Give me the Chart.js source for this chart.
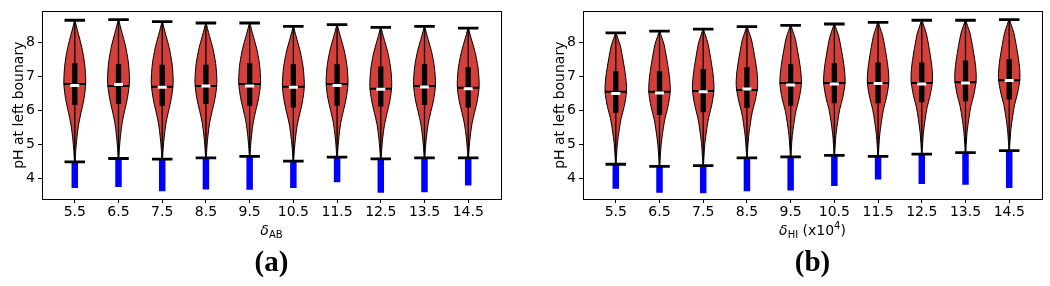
<!DOCTYPE html>
<html>
<head>
<meta charset="utf-8">
<script src="https://cdn.jsdelivr.net/npm/chart.js@4.4.1/dist/chart.umd.min.js"></script>
<style>
  body { margin: 0; background: #fff; }
  #wrap { position: relative; width: 1050px; height: 286px; }
  canvas { position: absolute; top: 0; }
  #chartA { left: 0; }
  #chartB { left: 525px; }
</style>
</head>
<body>
<div id="wrap">
  <canvas id="chartA" width="525" height="286"></canvas>
  <canvas id="chartB" width="525" height="286"></canvas>
</div>
<script>
const xLabels = ['5.5', '6.5', '7.5', '8.5', '9.5', '10.5', '11.5', '12.5', '13.5', '14.5'];
const yTicks = [4, 5, 6, 7, 8];

// panel (a): delta_AB
const aMax    = [8.65, 8.67, 8.61, 8.57, 8.57, 8.47, 8.52, 8.44, 8.47, 8.42];
const aMin    = [4.49, 4.59, 4.57, 4.61, 4.65, 4.51, 4.63, 4.58, 4.61, 4.61];
const aMean   = [6.78, 6.72, 6.70, 6.72, 6.78, 6.70, 6.78, 6.64, 6.72, 6.67];
const aMedian = [6.73, 6.76, 6.68, 6.72, 6.72, 6.68, 6.73, 6.62, 6.69, 6.64];
const aQ1     = [6.16, 6.19, 6.14, 6.19, 6.14, 6.09, 6.14, 6.12, 6.16, 6.09];
const aQ3     = [7.39, 7.36, 7.34, 7.34, 7.39, 7.36, 7.36, 7.29, 7.36, 7.27];
const aLow    = [3.72, 3.75, 3.63, 3.68, 3.67, 3.72, 3.89, 3.58, 3.60, 3.80];

// panel (b): delta_HI
const bMax    = [8.28, 8.33, 8.39, 8.46, 8.50, 8.54, 8.59, 8.65, 8.65, 8.67];
const bMin    = [4.42, 4.36, 4.38, 4.61, 4.64, 4.68, 4.65, 4.72, 4.76, 4.82];
const bMean   = [6.55, 6.55, 6.57, 6.60, 6.81, 6.81, 6.81, 6.81, 6.83, 6.89];
const bMedian = [6.50, 6.51, 6.55, 6.63, 6.75, 6.78, 6.79, 6.78, 6.81, 6.88];
const bQ1     = [5.93, 5.87, 5.95, 6.07, 6.14, 6.21, 6.21, 6.24, 6.27, 6.32];
const bQ3     = [7.15, 7.15, 7.22, 7.27, 7.36, 7.39, 7.41, 7.41, 7.47, 7.51];
const bLow    = [3.70, 3.58, 3.57, 3.63, 3.65, 3.78, 3.97, 3.84, 3.82, 3.72];

// violin outline: relative height (min cap -> max cap) and density (1 = widest)
const profT = [0, 0.04, 0.08, 0.16, 0.26, 0.35, 0.44, 0.55, 0.63, 0.70, 0.81, 0.90, 0.96, 1];
const profA = [0.03, 0.06, 0.09, 0.18, 0.34, 0.58, 0.83, 1.0, 0.97, 0.89, 0.64, 0.34, 0.14, 0.02];
const profB = [0.03, 0.05, 0.08, 0.15, 0.31, 0.49, 0.77, 0.98, 0.95, 0.85, 0.63, 0.42, 0.18, 0.02];

Chart.defaults.font.family = 'DejaVu Sans';
Chart.defaults.font.size = 14;
Chart.defaults.color = '#000';

function violins(maxs, mins, dens) {
    return maxs.map((top, i) => {
        const span = top - mins[i];
        const right = profT.map((t, k) => ({ x: i + 0.25 * dens[k], y: mins[i] + t * span }));
        const left = profT.map((t, k) => ({ x: i - 0.25 * dens[k], y: mins[i] + t * span })).reverse();
        return {
            data: right.concat(left),
            showLine: true,
            fill: 'shape',
            backgroundColor: '#D43F3A',
            borderColor: '#000',
            borderWidth: 1,
            pointRadius: 0,
            tension: 0.3,
            order: 6
        };
    });
}

// line segments separated by null gaps
function segs(pairs, color, width, order) {
    const data = [];
    pairs.forEach(p => { data.push(p[0], p[1], { x: p[0].x, y: null }); });
    return {
        data: data,
        showLine: true,
        borderColor: color,
        borderWidth: width,
        borderCapStyle: 'butt',
        pointRadius: 0,
        order: order
    };
}

function buildSets(d) {
    const sets = violins(d.max, d.min, d.prof);
    sets.push(segs(d.min.map((v, i) => [{ x: i, y: v }, { x: i, y: d.low[i] }]), '#0000ff', 6.5, 5));
    sets.push(segs(d.min.map((v, i) => [{ x: i, y: v }, { x: i, y: d.max[i] }]), '#000', 1.3, 4));
    sets.push(segs(d.q1.map((v, i) => [{ x: i, y: v }, { x: i, y: d.q3[i] }]), '#000', 5.3, 3));
    sets.push(segs(d.mean.map((v, i) => [{ x: i - 0.25, y: v }, { x: i + 0.25, y: v }]), '#000', 2, 2));
    const caps = [];
    d.max.forEach((v, i) => {
        caps.push([{ x: i - 0.235, y: v }, { x: i + 0.235, y: v }]);
        caps.push([{ x: i - 0.235, y: d.min[i] }, { x: i + 0.235, y: d.min[i] }]);
    });
    sets.push(segs(caps, '#000', 2.8, 1));
    sets.push({
        data: d.median.map((v, i) => ({ x: i, y: v })),
        pointStyle: 'line',
        pointRadius: 4.5,
        pointBorderWidth: 3,
        pointBorderColor: '#fff',
        borderColor: '#fff',
        order: 0
    });
    return sets;
}

function drawRich(ctx, parts, cx, y) {
    let w = 0;
    parts.forEach(p => { ctx.font = p.font; w += ctx.measureText(p.text).width; });
    let x = cx - w / 2;
    parts.forEach(p => {
        ctx.font = p.font;
        ctx.fillText(p.text, x, y + (p.dy || 0));
        x += ctx.measureText(p.text).width;
    });
}

const decor = {
    id: 'decor',
    afterDraw(chart, args, o) {
        const { ctx, chartArea: a } = chart;
        ctx.save();
        ctx.strokeStyle = '#000';
        ctx.lineWidth = 1;
        ctx.strokeRect(Math.round(a.left) + 0.5, Math.round(a.top) + 0.5,
            Math.round(a.right - a.left), Math.round(a.bottom - a.top));
        ctx.fillStyle = '#000';
        // y title
        ctx.save();
        ctx.translate(a.left - 23, (a.top + a.bottom) / 2);
        ctx.rotate(-Math.PI / 2);
        ctx.textAlign = 'center';
        ctx.textBaseline = 'middle';
        ctx.font = '14px "DejaVu Sans"';
        ctx.fillText('pH at left bounary', 0, 0);
        ctx.restore();
        // x title and panel letter
        const cx = (a.left + a.right) / 2;
        ctx.textAlign = 'left';
        ctx.textBaseline = 'alphabetic';
        drawRich(ctx, o.xTitle, cx, 235);
        ctx.textAlign = 'center';
        ctx.font = 'bold 29px "Liberation Serif"';
        ctx.fillText(o.letter, cx, 271);
        ctx.restore();
    }
};

function makeChart(id, d, pad, yWidth, xTitle, letter) {
    return new Chart(document.getElementById(id), {
        type: 'scatter',
        data: { datasets: buildSets(d) },
        options: {
            responsive: false,
            animation: false,
            events: [],
            layout: { padding: pad },
            plugins: {
                legend: { display: false },
                tooltip: { enabled: false },
                decor: { xTitle: xTitle, letter: letter }
            },
            scales: {
                x: {
                    type: 'linear',
                    min: -0.75,
                    max: 9.75,
                    afterBuildTicks: s => { s.ticks = xLabels.map((_, i) => ({ value: i })); },
                    afterFit: s => { s.height = 87; },
                    ticks: { callback: v => xLabels[v], padding: 1, maxRotation: 0, autoSkip: false },
                    grid: { drawOnChartArea: false, drawTicks: true, tickLength: 4, tickColor: '#000' },
                    border: { display: false }
                },
                y: {
                    min: 3.4,
                    max: 8.91,
                    afterBuildTicks: s => { s.ticks = yTicks.map(v => ({ value: v })); },
                    afterFit: s => { s.width = yWidth; },
                    ticks: { padding: 3 },
                    grid: { drawOnChartArea: false, drawTicks: true, tickLength: 4, tickColor: '#000' },
                    border: { display: false }
                }
            }
        },
        plugins: [decor]
    });
}

const italic = 'italic 14px "DejaVu Sans"';
const normal = '14px "DejaVu Sans"';
const small = '10px "DejaVu Sans"';

makeChart('chartA',
    { max: aMax, min: aMin, mean: aMean, median: aMedian, q1: aQ1, q3: aQ3, low: aLow, prof: profA },
    { top: 7, right: 24, left: 0, bottom: 0 }, 42,
    [{ text: 'δ', font: italic }, { text: 'AB', font: small, dy: 3 }],
    '(a)');

makeChart('chartB',
    { max: bMax, min: bMin, mean: bMean, median: bMedian, q1: bQ1, q3: bQ3, low: bLow, prof: profB },
    { top: 7, right: 8, left: 0, bottom: 0 }, 58,
    [{ text: 'δ', font: italic }, { text: 'HI', font: small, dy: 3 }, { text: ' (x10', font: normal },
     { text: '4', font: small, dy: -6 }, { text: ')', font: normal }],
    '(b)');
</script>
</body>
</html>
